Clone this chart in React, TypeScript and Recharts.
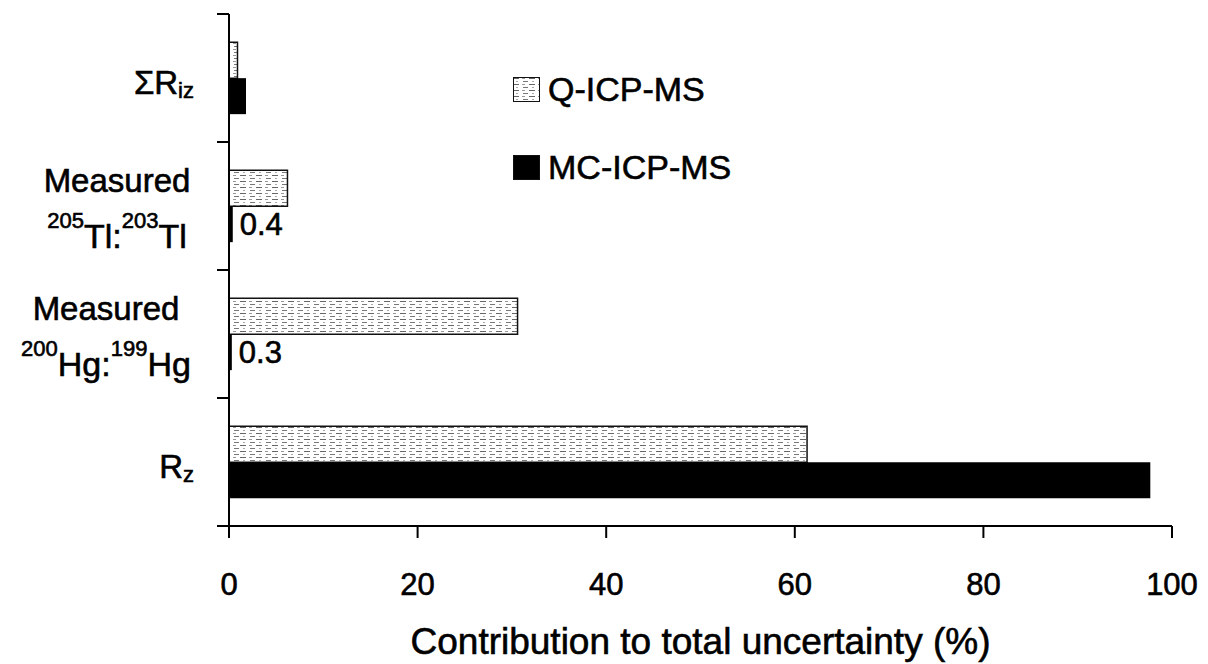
import React from "react";
import {
  BarChart,
  Bar,
  XAxis,
  YAxis,
  Legend,
  LabelList,
} from "recharts";

// categories top -> bottom
const categories = ["ΣRiz", "Measured 205Tl:203Tl", "Measured 200Hg:199Hg", "Rz"];
const qIcpMs = [0.9, 6.2, 30.6, 61.3];
const mcIcpMs = [1.8, 0.4, 0.3, 97.7];
const mcLabels = ["", "0.4", "0.3", ""];
const xTicks = [0, 20, 40, 60, 80, 100];

const data = categories.map((name, i) => ({
  name,
  q: qIcpMs[i],
  mc: mcIcpMs[i],
  mcLabel: mcLabels[i],
}));

const W = 1208;
const H = 664;
const TOP = 14;
const Y_AXIS_W = 229;
const X_AXIS_H = 138;
const RIGHT = 36;
const PLOT_H = H - TOP - X_AXIS_H;
const BAND = PLOT_H / categories.length;
const FONT = "Arial, 'Liberation Sans', Helvetica, sans-serif";
// scanned original has heavy ink, a thin outline on text mimics it
const INK = { stroke: "#000", strokeWidth: 0.6 };

function CategoryTick(props: any) {
  const { y, payload, index } = props;
  const half = BAND / 2;
  const ax = Y_AXIS_W;
  const name: string = payload.value;
  let label: React.ReactNode = null;

  if (name === "ΣRiz" || name === "Rz") {
    const main = name === "Rz" ? "R" : "ΣR";
    const sub = name === "Rz" ? "z" : "iz";
    label = (
      <text x={194} y={y + 16} textAnchor="end" fontSize={33} fill="#000" fontFamily={FONT} {...INK}>
        {main}
        <tspan fontSize={22} dy={4}>{sub}</tspan>
      </text>
    );
  } else {
    const isTl = name.includes("Tl");
    const el = isTl ? "Tl" : "Hg";
    const a = isTl ? "205" : "200";
    const b = isTl ? "203" : "199";
    const cx = isTl ? 117 : 106;
    label = (
      <g fontFamily={FONT} fill="#000" {...INK}>
        <text x={cx} y={y - 14} textAnchor="middle" fontSize={33}>Measured</text>
        <text x={cx} y={y + 42} textAnchor="middle" fontSize={34}>
          <tspan fontSize={22} dy={-20}>{a}</tspan>
          <tspan dy={20}>{el}:</tspan>
          <tspan fontSize={22} dy={-20}>{b}</tspan>
          <tspan dy={20}>{el}</tspan>
        </text>
      </g>
    );
  }

  return (
    <g>
      <line x1={ax - 12} x2={ax} y1={y - half} y2={y - half} stroke="#000" strokeWidth={2} />
      {index === categories.length - 1 && (
        <line x1={ax - 12} x2={ax} y1={y + half} y2={y + half} stroke="#000" strokeWidth={2} />
      )}
      {label}
    </g>
  );
}

function LegendBox() {
  const rows = [
    { label: "Q-ICP-MS", fill: "url(#qPattern)" },
    { label: "MC-ICP-MS", fill: "#000" },
  ];
  return (
    <div style={{ fontFamily: FONT, color: "#000" }}>
      {rows.map((r, i) => (
        <div
          key={r.label}
          style={{ display: "flex", alignItems: "center", height: 32, marginBottom: i === 0 ? 46 : 0 }}
        >
          <svg width={27} height={25} style={{ marginRight: 8 }}>
            <rect x={0.5} y={0.5} width={26} height={24} fill={r.fill} stroke="#111" strokeWidth={1} />
          </svg>
          <span style={{ fontSize: 34, lineHeight: "32px", WebkitTextStroke: "0.6px #000" }}>{r.label}</span>
        </div>
      ))}
    </div>
  );
}

export default function App() {
  return (
    <div style={{ position: "absolute", left: 0, top: 0, width: W, height: H, background: "#fff" }}>
      <svg width={0} height={0} style={{ position: "absolute" }}>
        <defs>
          <pattern id="qPattern" patternUnits="userSpaceOnUse" width={16} height={6}>
            <rect width={16} height={6} fill="#fff" />
            <line x1={0} x2={6} y1={1.5} y2={1.5} stroke="#666" strokeWidth={1} />
            <line x1={9} x2={12} y1={1.5} y2={1.5} stroke="#999" strokeWidth={1} />
            <line x1={3} x2={5} y1={4.5} y2={4.5} stroke="#aaa" strokeWidth={1} />
            <line x1={10} x2={15} y1={4.5} y2={4.5} stroke="#777" strokeWidth={1} />
          </pattern>
        </defs>
      </svg>
      <BarChart
        width={W}
        height={H}
        data={data}
        layout="vertical"
        margin={{ top: TOP, right: RIGHT, left: 0, bottom: 0 }}
        barCategoryGap="22%"
        barGap={0}
      >
        <XAxis
          type="number"
          domain={[0, 100]}
          ticks={xTicks}
          height={X_AXIS_H}
          tickSize={12}
          tickMargin={35}
          axisLine={{ stroke: "#000", strokeWidth: 2 }}
          tickLine={{ stroke: "#000", strokeWidth: 2 }}
          tick={{ fontSize: 31, fill: "#000", fontFamily: FONT, ...INK }}
          label={{
            value: "Contribution to total uncertainty (%)",
            position: "insideBottom",
            offset: 10,
            fontSize: 37,
            fill: "#000",
            fontFamily: FONT,
            ...INK,
          }}
        />
        <YAxis
          type="category"
          dataKey="name"
          width={Y_AXIS_W}
          axisLine={{ stroke: "#000", strokeWidth: 2 }}
          tickLine={false}
          tick={<CategoryTick />}
          interval={0}
        />
        <Legend
          layout="vertical"
          align="center"
          verticalAlign="middle"
          content={<LegendBox />}
          wrapperStyle={{ left: 513, top: 73, width: 300 }}
        />
        <Bar dataKey="q" name="Q-ICP-MS" fill="url(#qPattern)" stroke="#111" strokeWidth={1.5} isAnimationActive={false} />
        <Bar dataKey="mc" name="MC-ICP-MS" fill="#000" isAnimationActive={false}>
          <LabelList dataKey="mcLabel" position="right" offset={7} fontSize={31} fill="#000" fontFamily={FONT} {...INK} />
        </Bar>
      </BarChart>
    </div>
  );
}
